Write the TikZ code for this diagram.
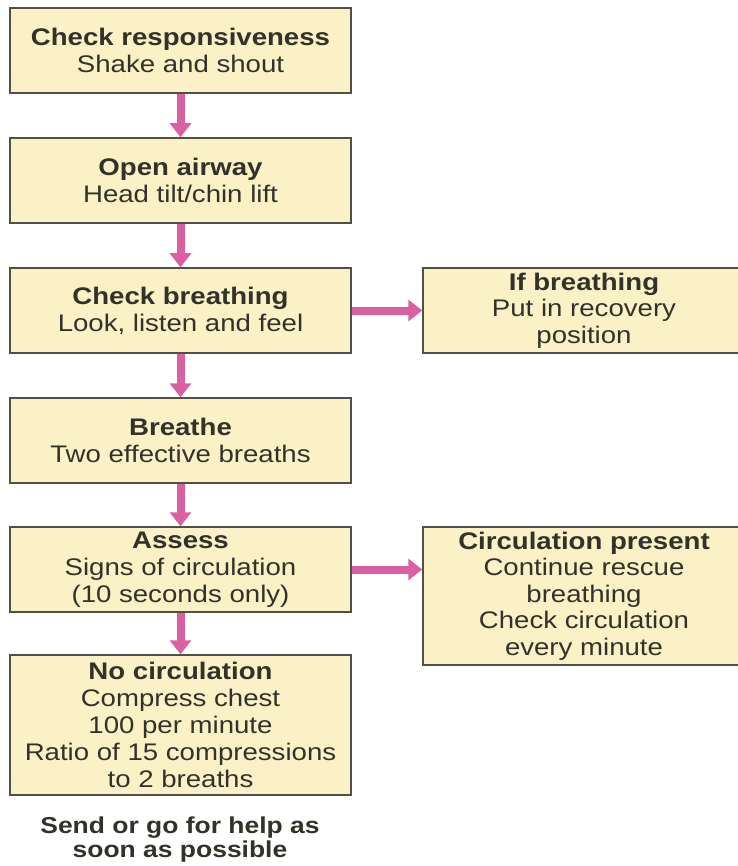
\documentclass[tikz,border=0pt]{standalone}
\usepackage{fontspec}
\setmainfont{Liberation Sans}[FakeStretch=1.15]
\usetikzlibrary{arrows.meta}
\definecolor{boxfill}{RGB}{250,241,198}
\definecolor{boxline}{RGB}{80,80,70}
\definecolor{txt}{RGB}{50,50,42}
\definecolor{pinkarrow}{RGB}{218,96,162}
\begin{document}
\begin{tikzpicture}[x=1pt,y=-1pt,
  box/.style={draw=boxline, line width=1.5pt, fill=boxfill, text=txt, align=center,
    inner sep=0pt, font=\fontsize{24}{27}\selectfont, minimum width=341pt, minimum height=85pt},
  rbox/.style={box, minimum width=322pt, font=\fontsize{24}{26.5}\selectfont},
  flow/.style={draw=pinkarrow, line width=8pt, -{Triangle[width=21pt,length=14pt]}},
  note/.style={text=txt, align=center, font=\bfseries\fontsize{23}{24}\selectfont}]
\useasboundingbox (0,0) rectangle (737,866);
\fill[white] (0,0) rectangle (737,866);

\node[box] (b1) at (180.5,50.5) {\textbf{Check responsiveness}\\Shake and shout};
\node[box] (b2) at (180.5,180.5) {\textbf{Open airway}\\Head tilt/chin lift};
\node[box] (b3) at (180.5,310.5) {\textbf{Check breathing}\\Look, listen and feel};
\node[box] (b4) at (180.5,440.5) {\textbf{Breathe}\\Two effective breaths};
\node[box] (b5) at (180.5,569.5) {\textbf{Assess}\\Signs of circulation\\(10 seconds only)};
\node[box, minimum height=140pt] (b6) at (180.5,725) {\textbf{No circulation}\\Compress chest\\100 per minute\\Ratio of 15 compressions\\to 2 breaths};

\node[rbox] (r1) at (584,310.5) {\textbf{If breathing}\\Put in recovery\\position};
\node[rbox, minimum height=138pt] (r2) at (584,596) {\textbf{Circulation present}\\Continue rescue\\breathing\\Check circulation\\every minute};

\node[note] (help) at (180,840) {Send or go for help as\\soon as possible};

\draw[flow] (b1.south) -- (b2.north);
\draw[flow] (b2.south) -- (b3.north);
\draw[flow] (b3.south) -- (b4.north);
\draw[flow] (b4.south) -- (b5.north);
\draw[flow] (b5.south) -- (b6.north);
\draw[flow] (b3.east) -- (r1.west);
\draw[flow] (b5.east) -- (b5.east -| r2.west);
\end{tikzpicture}
\end{document}
